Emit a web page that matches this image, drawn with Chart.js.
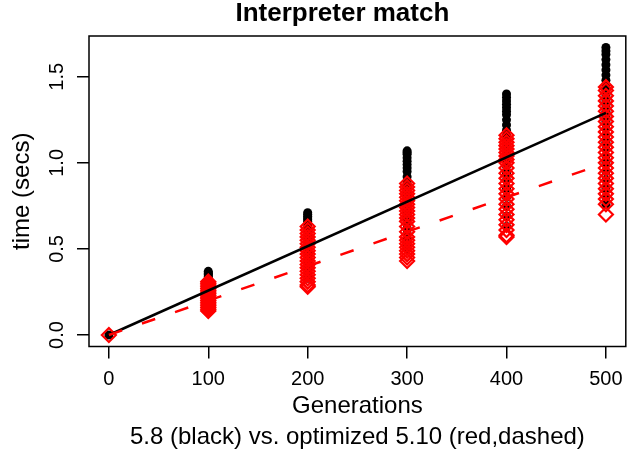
<!DOCTYPE html>
<html><head><meta charset="utf-8">
<script src="https://cdn.jsdelivr.net/npm/chart.js@4"></script>
<style>html,body{margin:0;padding:0;background:#fff}#wrap{width:635px;height:452px}</style>
</head><body><div id="wrap"><canvas id="c" width="635" height="452"></canvas></div>
<script>
// ---- data ----
const titleText = "Interpreter match";
const xLabel = "Generations";
const yLabel = "time (secs)";
const subLabel = "5.8 (black) vs. optimized 5.10 (red,dashed)";
const xTicks = [0, 100, 200, 300, 400, 500];
const yTicks = [0.0, 0.5, 1.0, 1.5];
const yTickLabels = ["0.0", "0.5", "1.0", "1.5"];

// perl 5.8 (black) times per generation count
const v58_0   = [0.0];
const v58_100 = [0.37,0.36,0.355,0.35,0.34,0.33,0.32,0.31,0.30,0.29,0.28,0.27,0.26,0.255,0.25,0.24,0.23,0.22,0.21,0.20,0.19,0.18,0.17];
const v58_200 = [0.71,0.70,0.69,0.68,0.67,0.66,0.64,0.62,0.60,0.58,0.56,0.54,0.52,0.50,0.48,0.46,0.44,0.42,0.40,0.38,0.36,0.34,0.33];
const v58_300 = [1.07,1.06,1.05,1.03,1.01,0.99,0.97,0.95,0.92,0.89,0.86,0.83,0.80,0.77,0.74,0.71,0.68,0.65,0.62,0.59,0.56,0.53,0.50];
const v58_400 = [1.40,1.38,1.36,1.34,1.32,1.30,1.28,1.25,1.22,1.19,1.16,1.13,1.10,1.06,1.02,0.98,0.94,0.90,0.85,0.80,0.75,0.69,0.63];
const v58_500 = [1.67,1.65,1.63,1.60,1.57,1.54,1.51,1.48,1.45,1.42,1.39,1.36,1.33,1.30,1.27,1.24,1.20,1.16,1.12,1.08,1.04,1.00,0.95,0.90,0.85,0.80,0.76];

// optimized 5.10 (red) times per generation count
const v510_0   = [0.0];
const v510_100 = [0.31,0.30,0.29,0.28,0.27,0.26,0.25,0.24,0.23,0.22,0.21,0.20,0.19,0.18,0.17,0.16,0.15,0.14];
const v510_200 = [0.63,0.61,0.59,0.57,0.55,0.53,0.51,0.49,0.47,0.45,0.43,0.41,0.39,0.37,0.35,0.33,0.31,0.29,0.28];
const v510_300 = [0.88,0.86,0.84,0.82,0.80,0.78,0.76,0.74,0.72,0.70,0.68,0.66,0.63,0.60,0.57,0.55,0.53,0.51,0.49,0.47,0.45,0.43];
const v510_400 = [1.16,1.14,1.12,1.10,1.08,1.06,1.04,1.02,1.00,0.97,0.94,0.91,0.88,0.85,0.82,0.79,0.76,0.73,0.70,0.67,0.64,0.61,0.58,0.57];
const v510_500 = [1.44,1.42,1.39,1.36,1.33,1.30,1.27,1.24,1.21,1.18,1.15,1.12,1.09,1.06,1.03,1.00,0.97,0.94,0.91,0.88,0.85,0.82,0.79,0.76,0.70];

// fitted lines
const fitGens = [0, 500];
const fit58  = [0.0, 1.29];
const fit510 = [0.0, 1.00];

// ---- build ----
function pts(gens, lists){
  const out = [];
  gens.forEach((g,i)=>lists[i].forEach(v=>out.push({x:g,y:v})));
  return out;
}
const black = pts(xTicks, [v58_0,v58_100,v58_200,v58_300,v58_400,v58_500]);
const red   = pts(xTicks, [v510_0,v510_100,v510_200,v510_300,v510_400,v510_500]);
const line58  = fitGens.map((g,i)=>({x:g,y:fit58[i]}));
const line510 = fitGens.map((g,i)=>({x:g,y:fit510[i]}));

const FONT = '"Liberation Sans", Arial, Helvetica, sans-serif';

const rPlugin = {
  id: 'rstyle',
  afterDraw(chart){
    const {ctx, chartArea:a, scales:{x, y}} = chart;
    ctx.save();
    ctx.strokeStyle = '#000';
    ctx.lineWidth = 1.5;
    ctx.strokeRect(a.left, a.top, a.right-a.left, a.bottom-a.top);
    ctx.fillStyle = '#000';
    ctx.textAlign = 'center';
    ctx.textBaseline = 'middle';
    // x tick labels
    ctx.font = '20px ' + FONT;
    xTicks.forEach(v=>ctx.fillText(String(v), x.getPixelForValue(v), 379));
    // y tick labels (rotated)
    yTicks.forEach((v,i)=>{
      ctx.save();
      ctx.translate(57, y.getPixelForValue(v));
      ctx.rotate(-Math.PI/2);
      ctx.fillText(yTickLabels[i], 0, 0);
      ctx.restore();
    });
    // axis titles
    ctx.font = '24px ' + FONT;
    const cx = (a.left + a.right)/2, cy = (a.top + a.bottom)/2;
    ctx.fillText(xLabel, cx, 406);
    ctx.fillText(subLabel, cx, 437);
    ctx.save();
    ctx.translate(22, cy);
    ctx.rotate(-Math.PI/2);
    ctx.fillText(yLabel, 0, 0);
    ctx.restore();
    // title
    ctx.font = 'bold 26px ' + FONT;
    ctx.fillText(titleText, cx - 15, 14);
    ctx.restore();
  }
};

new Chart(document.getElementById('c'), {
  type: 'scatter',
  data: {
    datasets: [
      {data: line510, showLine: true, pointRadius: 0, borderColor: '#ff0000', borderWidth: 2.5, borderDash: [14, 21], fill: false},
      {data: line58, showLine: true, pointRadius: 0, borderColor: '#000000', borderWidth: 2.5, fill: false},
      {data: red, pointStyle: 'rectRot', pointRadius: 7, borderColor: '#ff0000', borderWidth: 2.2, backgroundColor: 'rgba(0,0,0,0)'},
      {data: black, pointStyle: 'circle', pointRadius: 4.5, borderWidth: 0, borderColor: '#000', backgroundColor: '#000'}
    ]
  },
  options: {
    responsive: false,
    animation: false,
    devicePixelRatio: 1,
    layout: {padding: {top: 36, right: 4, left: 0, bottom: 0}},
    plugins: {legend: {display: false}, tooltip: {enabled: false}, title: {display: false}},
    scales: {
      x: {
        type: 'linear', min: -20, max: 520,
        afterBuildTicks: s => { s.ticks = xTicks.map(v=>({value:v})); },
        afterFit: s => { s.height = 105.5; },
        ticks: {display: false},
        grid: {drawOnChartArea: false, drawTicks: true, tickLength: 12, color: '#000', lineWidth: 1.5},
        border: {display: false}
      },
      y: {
        type: 'linear', min: -0.0668, max: 1.737,
        afterBuildTicks: s => { s.ticks = yTicks.map(v=>({value:v})); },
        afterFit: s => { s.width = 89; },
        ticks: {display: false},
        grid: {drawOnChartArea: false, drawTicks: true, tickLength: 12, color: '#000', lineWidth: 1.5},
        border: {display: false}
      }
    }
  },
  plugins: [rPlugin]
});
</script>
</body></html>
